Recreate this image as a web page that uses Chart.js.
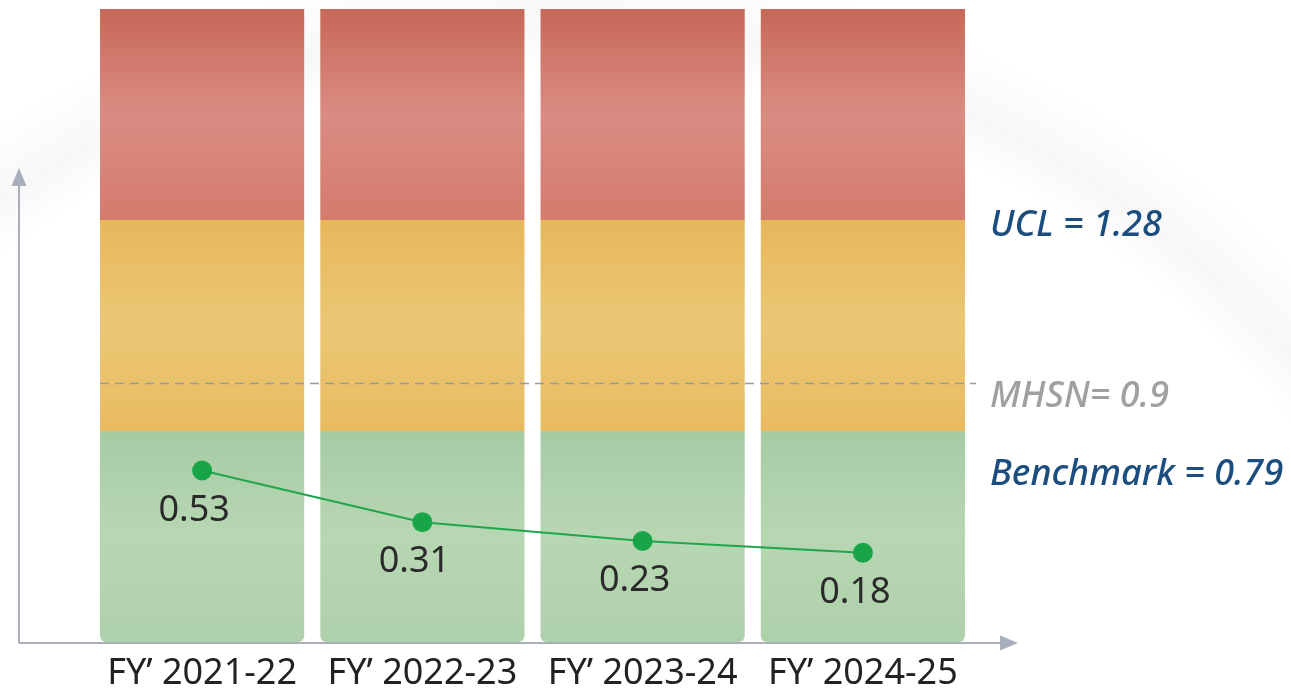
<!DOCTYPE html>
<html>
<head>
<meta charset="utf-8">
<script src="https://cdn.jsdelivr.net/npm/chart.js@4.4.1/dist/chart.umd.min.js"></script>
<style>
  html, body { margin: 0; padding: 0; background: #fff; }
  #wrap {
    position: relative; width: 1291px; height: 696px;
    background:
      radial-gradient(circle at 560px 1000px, rgba(255,255,255,0) 0 930px, rgba(238,238,238,.45) 975px, rgba(255,255,255,0) 1040px),
      #fff;
  }
</style>
</head>
<body>
<div id="wrap"><canvas id="chart"></canvas></div>
<script>
// ---- data ----
const categories = ['FY’ 2021-22', 'FY’ 2022-23', 'FY’ 2023-24', 'FY’ 2024-25'];
const rate = [0.53, 0.31, 0.23, 0.18];
const ucl = 1.28;
const mhsn = 0.9;
const benchmark = 0.79;
// zone bands behind each year, drawn as equal-height blocks (green / amber / red)
const zoneNames = ['Below benchmark', 'Benchmark to UCL', 'Above UCL'];
const zoneSpan = [[0, 1], [1, 2], [2, 3]];

const FONT = "'Noto Sans', 'Open Sans', sans-serif";
const zoneStops = [
  ['#a6cba3', '#b7d7b3', '#aed0aa'],
  ['#e7b75b', '#ebc775', '#e8bb60'],
  ['#c76858', '#da8c82', '#d47b6d'],
];

function zoneFill(i) {
  return ctx => {
    const { chart } = ctx;
    const sc = chart.scales.yZone;
    if (!chart.chartArea || !sc) return zoneStops[i][1];
    const top = sc.getPixelForValue(zoneSpan[i][1]);
    const bot = sc.getPixelForValue(zoneSpan[i][0]);
    if (!isFinite(top) || !isFinite(bot)) return zoneStops[i][1];
    const g = chart.ctx.createLinearGradient(0, top, 0, bot);
    g.addColorStop(0, zoneStops[i][0]);
    g.addColorStop(0.5, zoneStops[i][1]);
    g.addColorStop(1, zoneStops[i][2]);
    return g;
  };
}

const zoneSets = zoneNames.map((name, i) => ({
  type: 'bar',
  label: name,
  data: categories.map(() => zoneSpan[i]),
  yAxisID: 'yZone',
  grouped: false,
  backgroundColor: zoneFill(i),
  borderWidth: 0,
  borderSkipped: false,
  borderRadius: i === 0 ? { topLeft: 0, topRight: 0, bottomLeft: 6, bottomRight: 6 } : 0,
  barPercentage: 0.927,
  categoryPercentage: 1,
  order: 2,
}));

// axes arrows, MHSN dashed line, value labels and the side notes
const decor = {
  id: 'decor',
  beforeDatasetsDraw(chart) {
    const { ctx, chartArea: a } = chart;
    const ax = a.left - 73, ay = a.bottom + 1;
    ctx.save();
    ctx.strokeStyle = '#a8afba';
    ctx.fillStyle = '#a8afba';
    ctx.lineWidth = 2;
    ctx.beginPath();
    ctx.moveTo(ax, ay); ctx.lineTo(ax, 182);
    ctx.moveTo(ax, ay); ctx.lineTo(a.right + 30, ay);
    ctx.stroke();
    ctx.beginPath();
    ctx.moveTo(ax, 168); ctx.lineTo(ax - 7.5, 186); ctx.lineTo(ax + 7.5, 186); ctx.closePath();
    ctx.fill();
    ctx.beginPath();
    ctx.moveTo(a.right + 45, ay); ctx.lineTo(a.right + 27, ay - 7.5); ctx.lineTo(a.right + 27, ay + 7.5); ctx.closePath();
    ctx.fill();
    ctx.restore();
  },
  afterDatasetsDraw(chart) {
    const { ctx, chartArea: a, scales } = chart;
    const yl = scales.y, yz = scales.yZone;
    const dy = yl.getPixelForValue(mhsn);
    ctx.save();
    ctx.strokeStyle = '#9a9a9a';
    ctx.lineWidth = 1.5;
    ctx.setLineDash([9, 6]);
    ctx.beginPath();
    ctx.moveTo(a.left + 8, dy); ctx.lineTo(a.right + 3, dy);
    ctx.stroke();
    ctx.setLineDash([]);

    // value labels
    const meta = chart.getDatasetMeta(chart.data.datasets.length - 1);
    ctx.fillStyle = '#2a2a2a';
    ctx.font = `36px ${FONT}`;
    ctx.textAlign = 'center';
    ctx.textBaseline = 'middle';
    meta.data.forEach((pt, i) => {
      ctx.fillText(rate[i].toFixed(2), pt.x - 8, pt.y + 40);
    });

    // side notes
    const tx = a.right + 17;
    ctx.textAlign = 'left';
    ctx.font = `italic 500 36px ${FONT}`;
    ctx.fillStyle = '#1b4d7e';
    ctx.fillText(`UCL = ${ucl}`, tx, yz.getPixelForValue(zoneSpan[2][0]) + 6);
    ctx.fillText(`Benchmark = ${benchmark}`, tx, yz.getPixelForValue(zoneSpan[1][0]) + 44);
    ctx.fillStyle = '#a0a0a0';
    ctx.fillText(`MHSN= ${mhsn}`, tx, dy + 13);
    ctx.restore();
  }
};

new Chart(document.getElementById('chart'), {
  data: {
    labels: categories,
    datasets: [
      ...zoneSets,
      {
        type: 'line',
        label: 'Rate',
        data: rate,
        yAxisID: 'y',
        borderColor: '#1fa64d',
        borderWidth: 2,
        pointRadius: 10,
        pointBackgroundColor: '#17a548',
        pointBorderWidth: 0,
        tension: 0,
        order: 0,
      }
    ]
  },
  options: {
    responsive: true, maintainAspectRatio: false, animation: false,
    layout: { autoPadding: false, padding: { left: 92, right: 318, top: 9, bottom: 3 } },
    plugins: { legend: { display: false }, tooltip: { enabled: false } },
    scales: {
      x: {
        grid: { display: false, drawTicks: false },
        border: { display: false },
        ticks: { color: '#222', font: { family: FONT, size: 36 }, padding: 10, maxRotation: 0 },
        afterFit: s => { s.height = 51; },
      },
      y: { display: false, min: -0.2, max: 2.494 },
      yZone: { display: false, min: 0, max: 3 },
    }
  },
  plugins: [decor]
});
</script>
</body>
</html>
